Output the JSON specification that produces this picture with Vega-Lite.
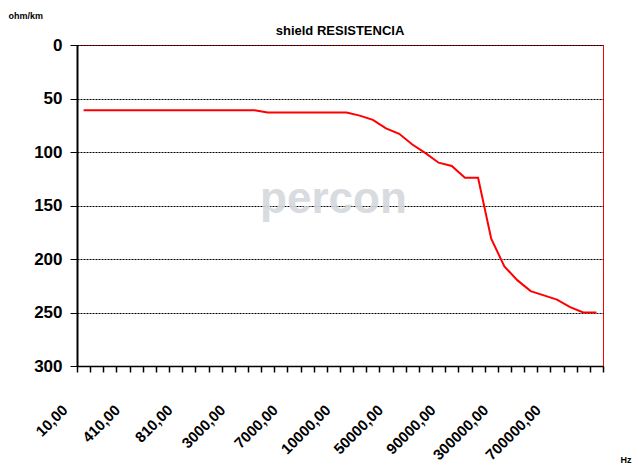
{
  "$schema": "https://vega.github.io/schema/vega-lite/v6.json",
  "width": 526,
  "height": 321,
  "autosize": {"type": "none"},
  "padding": {"left": 77, "top": 45, "right": 35, "bottom": 107},
  "background": "white",
  "config": {"font": "Liberation Sans", "view": {"stroke": "#ff0000", "strokeWidth": 1}},
  "title": {"text": "shield RESISTENCIA", "fontSize": 13, "fontWeight": "bold", "font": "Liberation Sans", "color": "black", "anchor": "middle", "frame": "group", "offset": -27},
  "layer": [
    {
      "data": {"values": [
        {"hz": "10,00", "ohm": 61}, {"hz": "110,00", "ohm": 61}, {"hz": "210,00", "ohm": 61}, {"hz": "310,00", "ohm": 61},
        {"hz": "410,00", "ohm": 61}, {"hz": "510,00", "ohm": 61}, {"hz": "610,00", "ohm": 61}, {"hz": "710,00", "ohm": 61},
        {"hz": "810,00", "ohm": 61}, {"hz": "910,00", "ohm": 61}, {"hz": "1000,00", "ohm": 61}, {"hz": "2000,00", "ohm": 61},
        {"hz": "3000,00", "ohm": 61}, {"hz": "4000,00", "ohm": 61}, {"hz": "5000,00", "ohm": 63}, {"hz": "6000,00", "ohm": 63},
        {"hz": "7000,00", "ohm": 63}, {"hz": "8000,00", "ohm": 63}, {"hz": "9000,00", "ohm": 63}, {"hz": "9500,00", "ohm": 63},
        {"hz": "10000,00", "ohm": 63}, {"hz": "20000,00", "ohm": 66}, {"hz": "30000,00", "ohm": 70}, {"hz": "40000,00", "ohm": 78},
        {"hz": "50000,00", "ohm": 83}, {"hz": "60000,00", "ohm": 93}, {"hz": "70000,00", "ohm": 101}, {"hz": "80000,00", "ohm": 110},
        {"hz": "90000,00", "ohm": 113}, {"hz": "100000,00", "ohm": 124}, {"hz": "200000,00", "ohm": 124}, {"hz": "250000,00", "ohm": 181},
        {"hz": "300000,00", "ohm": 207}, {"hz": "400000,00", "ohm": 220}, {"hz": "500000,00", "ohm": 230}, {"hz": "600000,00", "ohm": 234},
        {"hz": "700000,00", "ohm": 238}, {"hz": "800000,00", "ohm": 245}, {"hz": "900000,00", "ohm": 250}, {"hz": "1000000,00", "ohm": 250}
      ]},
      "mark": {"type": "line", "color": "#ff0000", "strokeWidth": 2},
      "encoding": {
        "x": {
          "field": "hz", "type": "ordinal", "sort": null,
          "scale": {"type": "band", "paddingInner": 0, "paddingOuter": 0},
          "axis": {
            "title": "Hz", "titleAngle": 0, "titleAlign": "left", "titleBaseline": "alphabetic",
            "titleX": 543, "titleY": 96, "titleFontSize": 9, "titleFontWeight": "bold", "titleColor": "black",
            "labelAngle": -45, "labelFontSize": 15, "labelFontWeight": "bold", "labelColor": "black",
            "labelPadding": 30, "labelOffset": -24, "labelOverlap": false,
            "labelExpr": "indexof(['10,00','410,00','810,00','3000,00','7000,00','10000,00','50000,00','90000,00','300000,00','700000,00'], datum.label) >= 0 ? datum.label : ''",
            "tickBand": "extent", "tickSize": 6, "tickColor": "black", "tickWidth": 1.5,
            "domainColor": "black", "domainWidth": 1.5, "grid": false
          }
        },
        "y": {
          "field": "ohm", "type": "quantitative",
          "scale": {"domain": [0, 300], "reverse": true, "nice": false},
          "axis": {
            "values": [0, 50, 100, 150, 200, 250, 300],
            "title": "ohm/km", "titleAngle": 0, "titleAlign": "left", "titleBaseline": "alphabetic",
            "titleX": -69, "titleY": -27, "titleFontSize": 9, "titleFontWeight": "bold", "titleColor": "black",
            "labelFontSize": 17, "labelFontWeight": "bold", "labelColor": "black", "labelPadding": 8,
            "tickSize": 7, "tickColor": "black", "tickWidth": 1,
            "domainColor": "black", "domainWidth": 2,
            "grid": true, "gridColor": "black", "gridDash": [2, 1], "gridWidth": 1, "gridOpacity": 1
          }
        }
      }
    },
    {
      "data": {"values": [{"hz": "9500,00", "ohm": 145, "t": "percon"}]},
      "mark": {"type": "text", "fontSize": 44, "fontWeight": "bold", "color": "#d4d8dc", "opacity": 0.9, "font": "Liberation Sans"},
      "encoding": {
        "x": {"field": "hz", "type": "ordinal", "sort": null},
        "y": {"field": "ohm", "type": "quantitative"},
        "text": {"field": "t"}
      }
    }
  ]
}
